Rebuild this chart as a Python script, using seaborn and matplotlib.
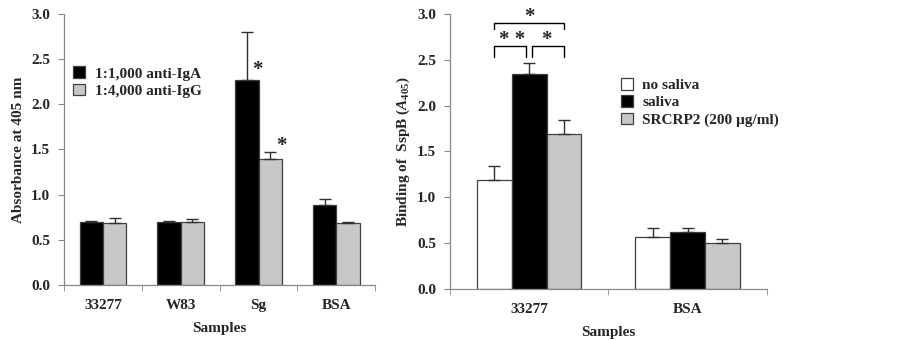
import pandas as pd
import matplotlib
matplotlib.use("Agg")
import matplotlib.pyplot as plt
import seaborn as sns
from matplotlib.patches import Patch
from matplotlib.ticker import FixedLocator

# left panel data
left_samples = ["33277", "W83", "Sg", "BSA"]
left_series = ["1:1,000 anti-IgA", "1:4,000 anti-IgG"]
iga_mean = [0.70, 0.70, 2.27, 0.88]
iga_err = [0.01, 0.01, 0.53, 0.07]
igg_mean = [0.69, 0.70, 1.39, 0.69]
igg_err = [0.05, 0.03, 0.08, 0.01]

# right panel data
right_samples = ["33277", "BSA"]
right_series = ["no saliva", "saliva", "SRCRP2 (200 \u00b5g/ml)"]
nosal_mean = [1.19, 0.57]
nosal_err = [0.15, 0.09]
sal_mean = [2.35, 0.62]
sal_err = [0.11, 0.04]
srcrp_mean = [1.69, 0.50]
srcrp_err = [0.15, 0.05]

sns.set_style("white")
plt.rcParams['font.family'] = ['Liberation Serif', 'DejaVu Serif']
plt.rcParams['font.weight'] = 'bold'
plt.rcParams['mathtext.fontset'] = 'custom'
plt.rcParams['mathtext.it'] = 'Liberation Serif:italic:bold'
plt.rcParams['mathtext.rm'] = 'Liberation Serif:bold'

left_df = pd.DataFrame({
    "sample": left_samples * 2,
    "series": [left_series[0]] * 4 + [left_series[1]] * 4,
    "value": iga_mean + igg_mean,
    "err": iga_err + igg_err,
})
right_df = pd.DataFrame({
    "sample": right_samples * 3,
    "series": sum([[s] * 2 for s in right_series], []),
    "value": nosal_mean + sal_mean + srcrp_mean,
    "err": nosal_err + sal_err + srcrp_err,
})

black = "#000000"
grey = "#c8c8c8"
white = "#ffffff"
edge = "#404040"
fs = 11

fig = plt.figure(figsize=(9.02, 3.40), dpi=100)
ax1 = fig.add_axes([0.071, 0.162, 0.345, 0.797])
ax2 = fig.add_axes([0.499, 0.150, 0.351, 0.809])


def draw_panel(ax, df, samples, series, colors, width):
    sns.barplot(data=df, x="sample", y="value", hue="series", order=samples,
                hue_order=series, palette=colors, width=width, ax=ax,
                edgecolor=edge, linewidth=0.9, errorbar=None, legend=False)
    centers = []
    for cont, s in zip(ax.containers, series):
        errs = df[df.series == s].set_index("sample").loc[samples, "err"].values
        xs, ys = [], []
        for bar in cont:
            xs.append(bar.get_x() + bar.get_width() / 2)
            ys.append(bar.get_height())
        ax.errorbar(xs, ys, yerr=[[0] * len(errs), errs], fmt="none",
                    ecolor="#303030", elinewidth=1, capsize=4, capthick=1)
        centers.append(xs)
    ax.set_ylim(0, 3.0)
    ax.set_xlim(-0.5, len(samples) - 0.5)
    ax.set_yticks([0, 0.5, 1.0, 1.5, 2.0, 2.5, 3.0])
    ax.set_yticklabels(["%.1f" % v for v in [0, 0.5, 1.0, 1.5, 2.0, 2.5, 3.0]])
    ax.xaxis.set_minor_locator(FixedLocator([i + 0.5 for i in range(-1, len(samples))]))
    ax.tick_params(axis="x", which="major", length=0, pad=10, labelsize=fs)
    ax.tick_params(axis="x", which="minor", length=4, color="#888888", direction="out", bottom=True)
    ax.tick_params(axis="y", length=4, color="#888888", direction="out", left=True,
                   labelsize=fs, pad=6)
    for sp in ["top", "right"]:
        ax.spines[sp].set_visible(False)
    for sp in ["left", "bottom"]:
        ax.spines[sp].set_color("#888888")
        ax.spines[sp].set_linewidth(0.9)
    ax.set_xlabel("Samples", fontsize=fs, fontweight="bold", labelpad=7)
    handles = [Patch(facecolor=c, edgecolor=edge, linewidth=0.9) for c in colors]
    return centers, handles


c1, h1 = draw_panel(ax1, left_df, left_samples, left_series, [black, grey], 0.6)
ax1.set_ylabel("Absorbance at 405 nm", fontsize=fs, fontweight="bold")
ax1.legend(h1, left_series, loc="upper left", bbox_to_anchor=(0.0, 0.84),
           frameon=False, fontsize=fs, handlelength=0.8, handleheight=0.8,
           handletextpad=0.6, labelspacing=0.2, borderaxespad=0.2)
# significance stars on Sg
ax1.text(c1[0][2] + 0.13, 2.38, "*", ha="center", va="center", fontsize=15)
ax1.text(c1[1][2] + 0.14, 1.54, "*", ha="center", va="center", fontsize=15)

c2, h2 = draw_panel(ax2, right_df, right_samples, right_series, [white, black, grey], 0.66)
ax2.set_ylabel(r"Binding of  SspB ($\mathit{A}_{\mathrm{405}}$)", fontsize=fs, fontweight="bold")
ax2.legend(h2, right_series, loc="upper left", bbox_to_anchor=(0.51, 0.80),
           frameon=False, fontsize=fs, handlelength=0.8, handleheight=0.8,
           handletextpad=0.6, labelspacing=0.2, borderaxespad=0.2)

# brackets
xw, xb, xg = c2[0][0], c2[1][0], c2[2][0]
lw = 1.0
ax2.plot([xw, xw, xb - 0.02, xb - 0.02], [2.53, 2.65, 2.65, 2.53], color="black", lw=lw)
ax2.plot([xb + 0.02, xb + 0.02, xg, xg], [2.53, 2.65, 2.65, 2.53], color="black", lw=lw)
ax2.plot([xw, xw, xg, xg], [2.84, 2.90, 2.90, 2.84], color="black", lw=lw)
ax2.text((xw + xb) / 2, 2.72, "* *", ha="center", va="center", fontsize=15)
ax2.text((xb + xg) / 2, 2.72, "*", ha="center", va="center", fontsize=15)
ax2.text((xw + xg) / 2, 2.97, "*", ha="center", va="center", fontsize=15)

fig.savefig("out.png", dpi=100)
